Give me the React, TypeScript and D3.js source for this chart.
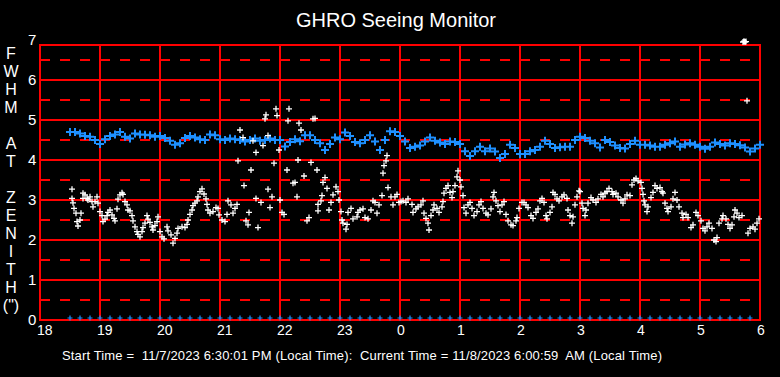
import React, { useEffect } from 'react';
import * as d3 from 'd3';

const W = 780;
const H = 377;

const titleText = 'GHRO Seeing Monitor';
const footerText = 'Start Time =  11/7/2023 6:30:01 PM (Local Time):  Current Time = 11/8/2023 6:00:59  AM (Local Time)';
const hourLabels = ['18', '19', '20', '21', '22', '23', '0', '1', '2', '3', '4', '5', '6'];
const yTickLabels = ['0', '1', '2', '3', '4', '5', '6', '7'];
const yAxisLetters = ['F', 'W', 'H', 'M', '', 'A', 'T', '', 'Z', 'E', 'N', 'I', 'T', 'H', '(")'];

// minutes after 18:00, FWHM (arcsec)
const blueFwhm: [number, number][] = [
  [30, 4.70], [35, 4.70], [40, 4.66], [45, 4.60], [50, 4.58], [55, 4.50], [60, 4.40], [65, 4.52], [70, 4.60], [75, 4.64],
  [80, 4.70], [85, 4.58], [90, 4.54], [95, 4.66], [100, 4.64], [105, 4.63], [110, 4.62], [115, 4.58], [120, 4.60], [125, 4.55],
  [130, 4.48], [135, 4.38], [140, 4.42], [145, 4.55], [150, 4.60], [155, 4.56], [160, 4.52], [165, 4.50], [170, 4.64], [175, 4.62],
  [180, 4.52], [185, 4.50], [190, 4.54], [195, 4.52], [200, 4.50], [205, 4.46], [210, 4.50], [215, 4.54], [220, 4.48], [225, 4.50],
  [230, 4.54], [235, 4.50], [240, 4.50], [245, 4.34], [250, 4.45], [255, 4.52], [260, 4.47], [265, 4.62], [270, 4.62], [275, 4.50],
  [280, 4.42], [285, 4.25], [290, 4.40], [295, 4.56], [300, 4.52], [305, 4.69], [310, 4.60], [315, 4.45], [320, 4.42], [325, 4.50],
  [330, 4.62], [335, 4.46], [340, 4.25], [345, 4.50], [350, 4.72], [355, 4.70], [360, 4.60], [365, 4.46], [370, 4.30], [375, 4.33],
  [380, 4.36], [385, 4.46], [390, 4.56], [395, 4.48], [400, 4.44], [405, 4.40], [410, 4.46], [415, 4.45], [420, 4.40], [425, 4.22],
  [430, 4.10], [435, 4.22], [440, 4.33], [445, 4.22], [450, 4.29], [455, 4.21], [460, 4.05], [465, 4.15], [470, 4.38], [475, 4.30],
  [480, 4.15], [485, 4.15], [490, 4.22], [495, 4.25], [500, 4.33], [505, 4.48], [510, 4.40], [515, 4.30], [520, 4.32], [525, 4.33],
  [530, 4.33], [535, 4.50], [540, 4.58], [545, 4.55], [550, 4.48], [555, 4.42], [560, 4.31], [565, 4.50], [570, 4.45], [575, 4.36],
  [580, 4.30], [585, 4.29], [590, 4.40], [595, 4.48], [600, 4.38], [605, 4.38], [610, 4.36], [615, 4.33], [620, 4.33], [625, 4.38],
  [630, 4.42], [635, 4.46], [640, 4.33], [645, 4.39], [650, 4.42], [655, 4.38], [660, 4.33], [665, 4.28], [670, 4.33], [675, 4.44],
  [680, 4.40], [685, 4.36], [690, 4.42], [695, 4.40], [700, 4.37], [705, 4.31], [710, 4.21], [715, 4.29], [720, 4.38],
];

const whiteFwhm: [number, number][] = [
  [32, 3.27], [32, 3.04], [33, 2.93], [34, 2.79], [36, 2.67], [41, 2.67], [37, 2.46], [38, 2.35], [40, 2.5], [43, 3.04],
  [43, 3.17], [45, 3.13], [47, 3.04], [48, 3.0], [50, 3.08], [52, 2.96], [53, 2.83], [55, 2.96], [57, 3.08], [58, 2.92],
  [60, 2.71], [62, 2.61], [63, 2.46], [65, 2.52], [67, 2.61], [68, 2.69], [70, 2.75], [72, 2.63], [74, 2.54], [75, 2.48],
  [77, 2.78], [78, 3.02], [80, 3.13], [82, 3.18], [83, 3.14], [85, 2.96], [87, 2.88], [88, 2.75], [90, 2.73], [92, 2.61],
  [93, 2.48], [95, 2.33], [97, 2.21], [98, 2.14], [100, 2.08], [102, 2.21], [103, 2.31], [105, 2.42], [107, 2.61], [108, 2.52],
  [110, 2.44], [112, 2.33], [113, 2.25], [115, 2.36], [117, 2.46], [118, 2.58], [120, 2.21], [122, 2.08], [124, 2.03], [127, 2.33],
  [128, 2.23], [131, 2.13], [133, 1.92], [135, 2.04], [137, 2.17], [138, 2.29], [142, 2.33], [145, 2.31], [147, 2.39], [148, 2.5],
  [150, 2.64], [152, 2.75], [153, 2.86], [155, 2.92], [157, 2.98], [158, 3.08], [160, 3.21], [162, 3.28], [164, 3.15], [166, 3.03],
  [167, 2.89], [168, 2.75], [170, 2.67], [173, 2.71], [176, 2.81], [178, 2.79], [179, 2.63],
  [182, 2.5], [185, 2.46], [187, 2.64], [188, 2.98], [191, 2.88], [193, 2.67], [195, 2.79], [197, 2.89], [198, 3.98], [200, 4.75],
  [203, 4.56], [204, 3.36], [206, 2.48], [208, 2.38], [209, 2.69], [211, 3.75], [213, 4.48], [216, 3.04], [216, 4.19], [218, 2.31],
  [221, 2.94], [223, 4.36], [225, 5.03], [226, 5.13], [228, 3.27], [228, 4.61], [230, 2.81], [232, 3.08], [234, 3.92], [236, 5.28],
  [237, 5.11], [239, 4.25], [240, 3.0], [242, 2.69], [244, 2.64], [247, 3.75], [248, 4.98], [249, 5.28], [253, 3.42], [255, 3.44],
  [257, 3.08], [259, 4.92], [258, 4.0], [261, 4.75], [264, 3.6], [267, 2.48], [269, 2.56], [271, 3.94], [273, 5.03], [275, 5.04],
  [277, 3.75], [278, 2.89], [278, 2.73], [281, 2.98], [282, 3.11], [283, 3.44], [285, 3.56], [287, 3.29], [289, 2.75], [291, 2.94],
  [293, 3.13], [296, 3.33], [298, 3.21], [299, 3.0], [301, 2.71], [302, 2.5], [303, 2.42], [306, 2.27], [307, 2.39], [308, 2.69],
  [311, 2.79], [313, 2.53], [317, 2.58], [318, 2.69], [320, 2.75], [323, 2.78], [325, 2.56], [328, 2.53], [331, 2.75], [333, 2.98],
  [335, 2.94], [337, 2.67], [339, 2.88], [342, 3.11], [343, 3.67], [344, 3.86], [346, 3.98], [347, 4.11], [348, 3.31], [351, 3.08],
  [353, 2.88], [355, 3.08], [357, 3.14], [359, 2.94],
  [361, 2.96], [363, 2.98], [366, 2.94], [368, 3.03], [372, 2.89], [373, 2.69], [376, 2.78], [378, 2.83], [381, 2.88], [383, 2.98],
  [384, 2.67], [386, 2.54], [388, 2.42], [389, 2.25], [391, 2.61], [393, 2.75], [394, 2.88], [397, 2.79], [399, 2.69], [402, 2.83],
  [403, 2.96], [404, 3.17], [406, 3.29], [408, 3.36], [410, 3.19], [412, 3.06], [413, 3.21], [415, 3.36], [417, 3.58], [418, 3.73],
  [420, 3.5], [421, 3.33], [423, 3.11], [424, 2.81], [426, 2.67], [428, 2.88], [430, 2.94], [432, 2.79], [434, 2.61], [437, 2.71],
  [439, 2.88], [441, 2.96], [443, 2.79], [446, 2.67], [448, 2.63], [451, 2.78], [453, 3.08], [454, 3.19], [456, 2.98], [458, 2.86],
  [460, 2.71], [462, 2.88], [464, 2.96], [466, 2.64], [468, 2.48], [471, 2.38], [473, 2.36], [476, 2.48], [477, 2.56], [479, 2.79],
  [482, 2.94], [484, 2.94], [486, 2.88], [488, 2.81], [491, 2.61], [493, 2.54], [496, 2.69], [498, 2.78], [500, 2.98], [502, 3.04],
  [504, 2.94], [506, 2.61], [507, 2.53], [510, 2.69], [512, 2.83], [513, 3.19], [515, 3.14], [517, 3.03], [519, 2.98], [522, 3.08],
  [524, 3.13], [527, 3.04], [528, 2.75], [530, 2.61], [532, 2.42], [533, 2.58], [535, 2.88], [537, 3.08], [539, 3.23],
  [540, 3.21], [542, 2.92], [543, 2.79], [545, 2.61], [546, 2.75], [548, 2.92], [551, 3.06], [553, 3.0], [556, 2.94], [558, 3.03],
  [561, 3.14], [563, 3.08], [565, 3.17], [567, 3.21], [569, 3.29], [572, 3.21], [573, 3.14], [576, 3.17], [578, 3.08], [581, 3.0],
  [583, 2.92], [585, 3.03], [587, 3.13], [590, 3.11], [592, 3.38], [594, 3.5], [596, 3.54], [598, 3.48], [601, 3.44], [602, 3.29],
  [603, 3.14], [604, 2.98], [605, 2.88], [607, 2.71], [608, 2.83], [611, 3.06], [613, 3.19], [615, 3.36], [617, 3.29], [620, 3.31],
  [622, 3.21], [623, 3.17], [625, 2.92], [627, 2.79], [628, 2.71], [631, 2.83], [633, 3.03], [635, 3.19], [637, 3.0], [639, 2.83],
  [642, 2.67], [643, 2.56], [646, 2.64], [648, 2.56], [651, 2.31], [653, 2.38], [656, 2.69], [658, 2.61], [661, 2.48], [663, 2.29],
  [665, 2.23], [667, 2.33], [669, 2.42], [672, 2.29], [674, 2.0], [676, 1.96], [677, 2.06], [679, 2.42], [682, 2.53], [683, 2.61],
  [686, 2.53], [688, 2.39], [690, 2.29], [692, 2.38], [694, 2.58], [695, 2.75], [697, 2.67], [699, 2.56], [702, 2.61], [708, 2.17],
  [710, 2.29], [713, 2.33], [715, 2.27], [717, 2.42], [719, 2.53],
  [703, 6.95], [704, 6.97], [705, 6.95], [706, 6.96], [707, 5.48],
];

const zeroMarkerMinutes = [
  30, 40, 50, 60, 70, 80, 90, 100, 110, 120, 130, 140, 150, 160, 170, 180, 190, 200, 210, 220,
  230, 240, 250, 260, 270, 280, 290, 300, 310, 320, 330, 340, 350, 360, 370, 380, 390, 400, 410, 420,
  430, 440, 450, 460, 470, 480, 490, 500, 510, 520, 530, 540, 550, 560, 570, 580, 590, 600, 610, 620,
  630, 640, 650, 660, 670, 680, 690, 700, 710,
];

const solidLevels = [1, 2, 3, 4, 5, 6];
const dashedLevels = [0.5, 1.5, 2.5, 3.5, 4.5, 5.5, 6.5];

const FONT = '"Liberation Sans", Arial, Helvetica, sans-serif';
const RED = '#ff0000';
const BLUE = '#1e90ff';

export default function App() {
  useEffect(() => {
    document.body.style.margin = '0';
    document.body.style.background = '#000';
  }, []);

  const x = d3.scaleLinear().domain([0, 720]).range([40, 760]);
  const y = d3.scaleLinear().domain([0, 7]).range([320, 40]);
  const plotTop = y(6.875);
  const hours = hourLabels.map((_, i) => i * 60);

  const plus = (cx: number, cy: number, r: number) =>
    `M${cx - r},${cy}h${2 * r}M${cx},${cy - r}v${2 * r}`;

  const bluePath = blueFwhm.map(([t, v]) => plus(x(t), y(v), 4)).join('');
  const whitePath = whiteFwhm.map(([t, v]) => plus(x(t), y(v), 3)).join('');
  const zeroPath = zeroMarkerMinutes.map((t) => plus(x(t), y(0) - 2, 2.5)).join('');

  return (
    <svg width={W} height={H} style={{ display: 'block', background: '#000' }} fontFamily={FONT}>
      <rect x={0} y={0} width={W} height={H} fill="#000" />
      <text x={396} y={27} fill="#fff" fontSize={20} textAnchor="middle">{titleText}</text>

      {/* grid */}
      {dashedLevels.map((lv) => (
        <line key={'d' + lv} x1={x(0)} x2={x(720)} y1={y(lv)} y2={y(lv)} stroke={RED} strokeWidth={2} strokeDasharray="10,10" />
      ))}
      {solidLevels.map((lv) => (
        <line key={'s' + lv} x1={x(0)} x2={x(720)} y1={y(lv)} y2={y(lv)} stroke={RED} strokeWidth={2} />
      ))}
      {hours.map((t) => (
        <line key={'v' + t} x1={x(t)} x2={x(t)} y1={plotTop} y2={y(0)} stroke={RED} strokeWidth={2} />
      ))}
      <rect x={x(0)} y={plotTop} width={x(720) - x(0)} height={y(0) - plotTop} fill="none" stroke={RED} strokeWidth={2} />

      {/* y tick labels */}
      {yTickLabels.map((lab, i) => (
        <text key={'yl' + i} x={28} y={y(i)} dy="0.36em" fill="#fff" fontSize={15}>{lab}</text>
      ))}
      {/* x tick labels */}
      {hourLabels.map((lab, i) => (
        <text key={'xl' + i} x={x(hours[i]) - 3} y={335} fill="#fff" fontSize={14}>{lab}</text>
      ))}
      {/* vertical axis title */}
      {yAxisLetters.map((ch, i) => (
        <text key={'al' + i} x={11} y={53 + i * 18} dy="0.36em" fill="#fff" fontSize={16} textAnchor="middle">{ch}</text>
      ))}

      <path d={zeroPath} stroke={BLUE} strokeWidth={1.2} fill="none" />
      <path d={bluePath} stroke={BLUE} strokeWidth={2} fill="none" />
      <path d={whitePath} stroke="#fff" strokeWidth={1.3} fill="none" />

      <text x={62} y={360} fill="#fff" fontSize={13} textLength={600} lengthAdjust="spacing" style={{ whiteSpace: 'pre' }}>{footerText}</text>
    </svg>
  );
}
